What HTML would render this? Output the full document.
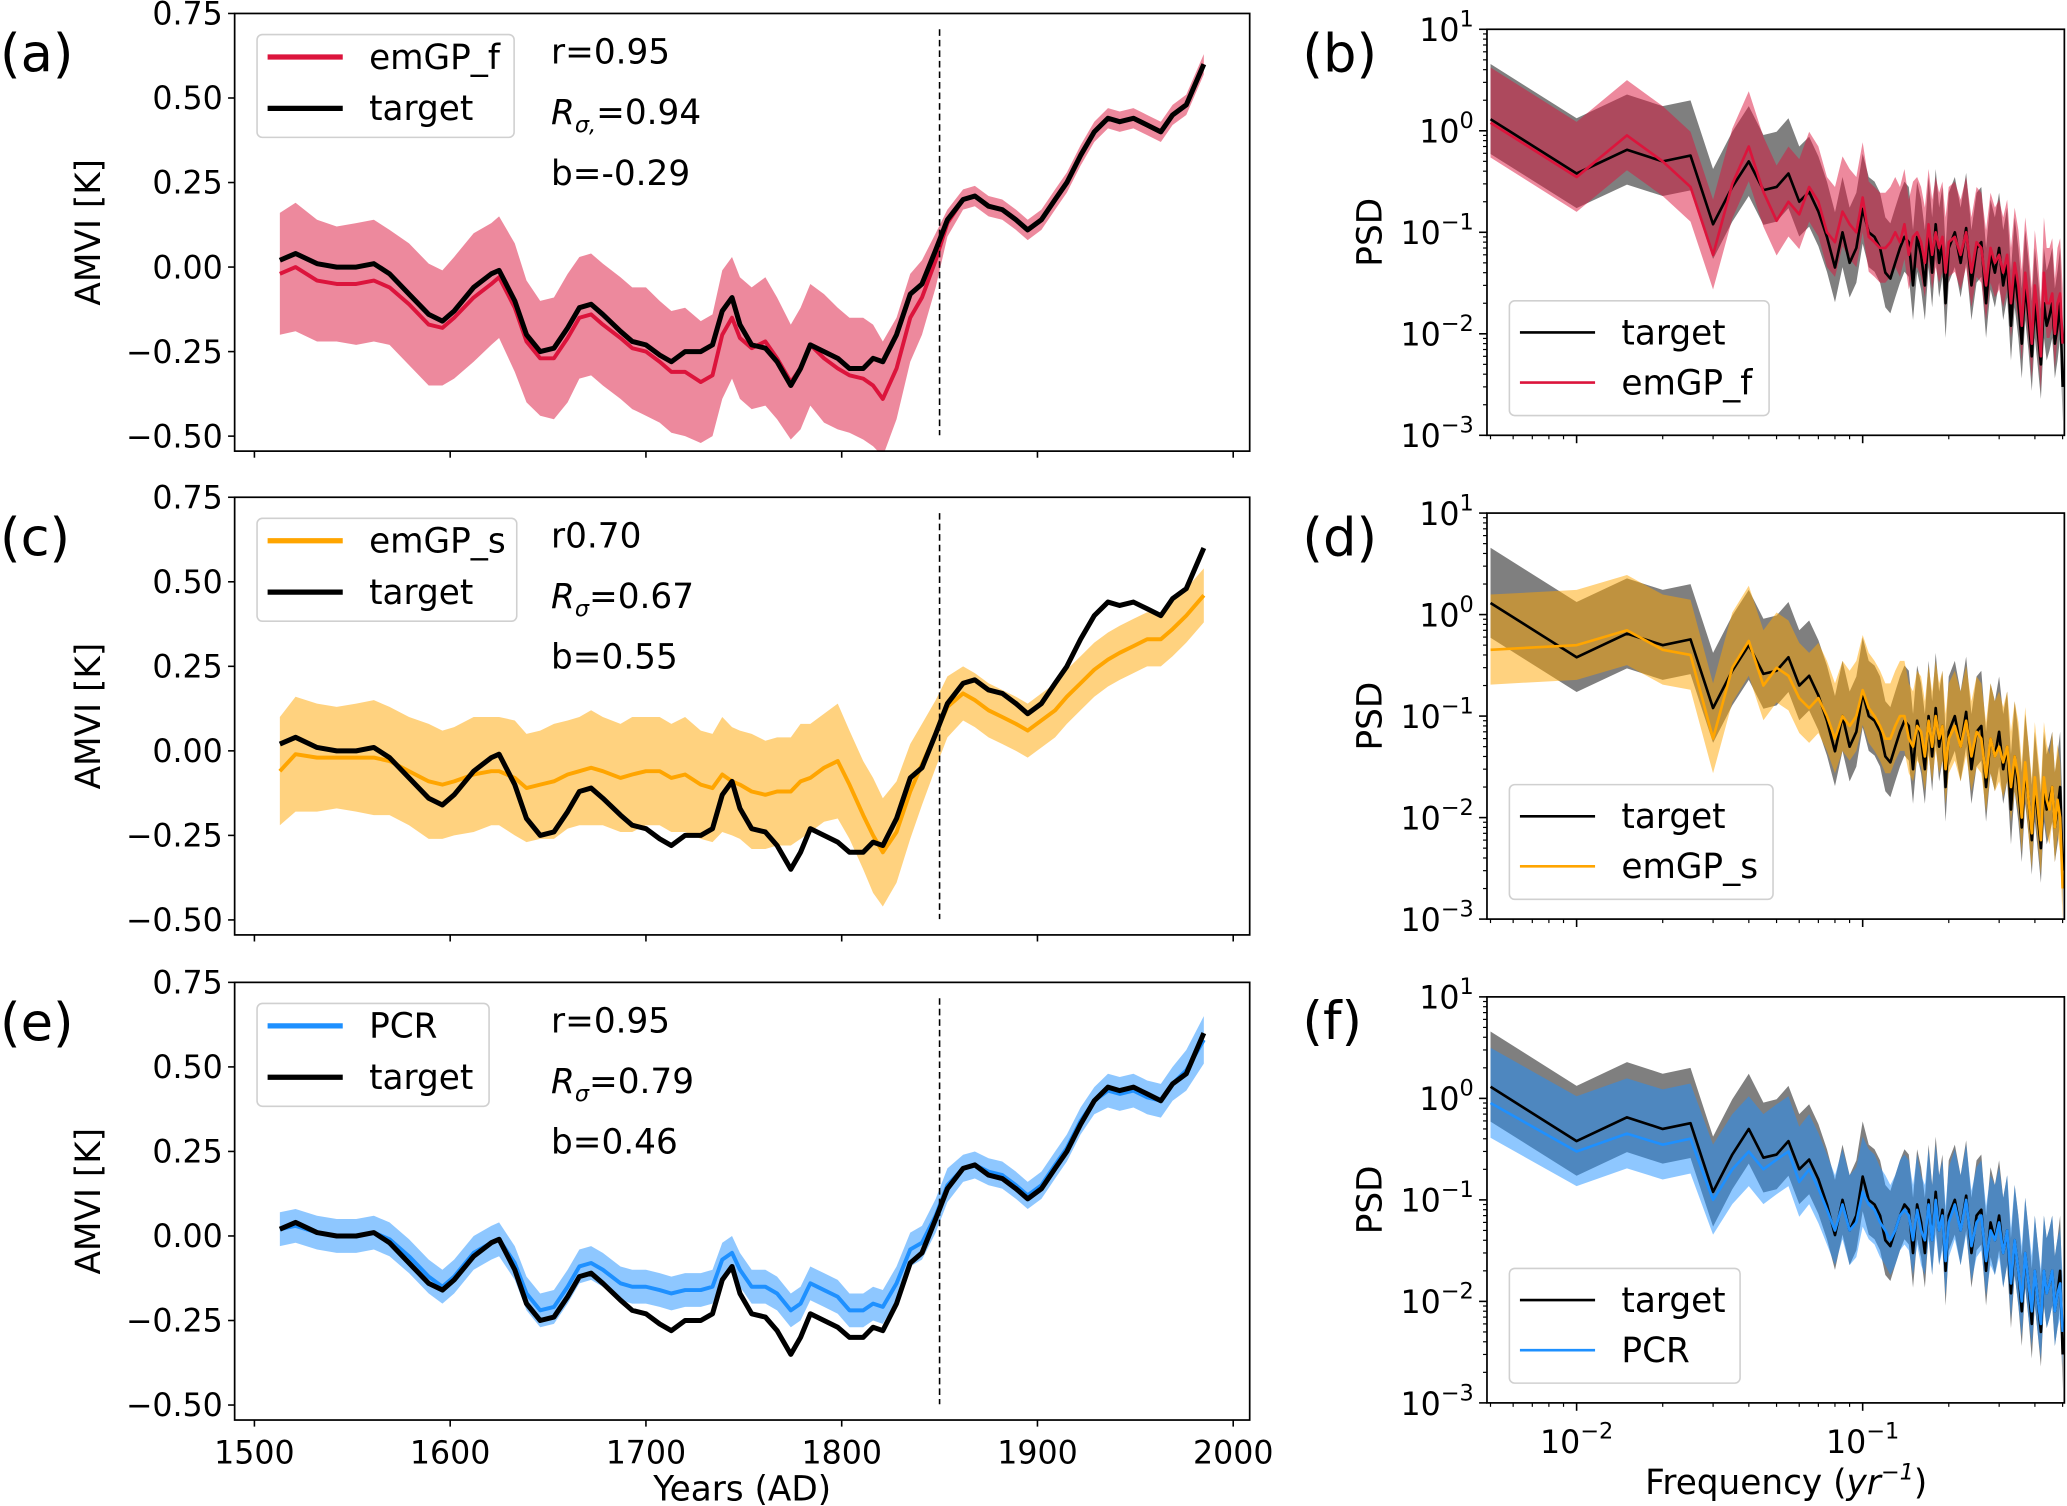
<!DOCTYPE html>
<html><head><meta charset="utf-8">
<style>
html,body{margin:0;padding:0;background:#fff;}
svg{display:block;font-family:"DejaVu Sans","Liberation Sans",sans-serif;}
</style></head>
<body>
<svg id="fig" xmlns="http://www.w3.org/2000/svg" width="2067" height="1506" viewBox="0 0 1568 1142">
<rect x="0" y="0" width="1568" height="1142" fill="#fff"/>
</svg>
<script>
// ---- time-series data ----
const years = [1513,1521,1532,1542,1552,1561,1569,1579,1589,1596,1602,1612,1621,1625,1633,1639,1646,1653,1660,1666,1672,1678,1687,1693,1700,1707,1713,1720,1728,1734,1739,1744,1748,1754,1761,1767,1774,1779,1784,1791,1798,1804,1811,1816,1821,1828,1835,1841,1848,1854,1862,1868,1875,1882,1889,1895,1902,1909,1915,1922,1929,1936,1942,1949,1956,1963,1969,1976,1985];
const targetTS = [0.02,0.04,0.01,0.00,0.00,0.01,-0.02,-0.08,-0.14,-0.16,-0.13,-0.06,-0.02,-0.01,-0.10,-0.20,-0.25,-0.24,-0.18,-0.12,-0.11,-0.14,-0.19,-0.22,-0.23,-0.26,-0.28,-0.25,-0.25,-0.23,-0.13,-0.09,-0.17,-0.23,-0.24,-0.28,-0.35,-0.30,-0.23,-0.25,-0.27,-0.30,-0.30,-0.27,-0.28,-0.20,-0.08,-0.05,0.05,0.14,0.20,0.21,0.18,0.17,0.14,0.11,0.14,0.20,0.25,0.33,0.40,0.44,0.43,0.44,0.42,0.40,0.45,0.48,0.60];
const emgpfTS = [-0.02,0.00,-0.04,-0.05,-0.05,-0.04,-0.06,-0.11,-0.17,-0.18,-0.15,-0.09,-0.05,-0.03,-0.12,-0.22,-0.27,-0.27,-0.21,-0.15,-0.14,-0.17,-0.21,-0.24,-0.25,-0.28,-0.31,-0.31,-0.34,-0.32,-0.20,-0.15,-0.21,-0.24,-0.22,-0.27,-0.34,-0.30,-0.23,-0.27,-0.30,-0.32,-0.33,-0.35,-0.39,-0.30,-0.15,-0.09,0.02,0.13,0.20,0.21,0.18,0.17,0.14,0.11,0.14,0.20,0.25,0.33,0.40,0.44,0.43,0.44,0.42,0.40,0.45,0.48,0.60];
const emgpfHW = [0.18,0.19,0.18,0.17,0.18,0.18,0.17,0.18,0.18,0.17,0.18,0.19,0.18,0.18,0.19,0.18,0.17,0.18,0.19,0.18,0.18,0.18,0.18,0.18,0.19,0.18,0.18,0.19,0.18,0.18,0.19,0.18,0.18,0.18,0.19,0.18,0.17,0.18,0.18,0.19,0.18,0.17,0.18,0.18,0.17,0.15,0.13,0.11,0.08,0.04,0.03,0.03,0.03,0.03,0.03,0.03,0.03,0.03,0.03,0.03,0.03,0.03,0.03,0.03,0.03,0.03,0.03,0.03,0.03];
const emgpsTS = [-0.06,-0.01,-0.02,-0.02,-0.02,-0.02,-0.03,-0.06,-0.09,-0.10,-0.09,-0.07,-0.06,-0.06,-0.08,-0.11,-0.10,-0.09,-0.07,-0.06,-0.05,-0.06,-0.08,-0.07,-0.06,-0.06,-0.08,-0.07,-0.10,-0.11,-0.07,-0.09,-0.10,-0.12,-0.13,-0.12,-0.12,-0.09,-0.08,-0.05,-0.03,-0.10,-0.19,-0.25,-0.30,-0.24,-0.12,-0.04,0.05,0.13,0.17,0.15,0.12,0.10,0.08,0.06,0.09,0.12,0.16,0.20,0.24,0.27,0.29,0.31,0.33,0.33,0.36,0.40,0.46];
const emgpsHW = [0.16,0.17,0.16,0.15,0.16,0.17,0.16,0.16,0.17,0.16,0.16,0.17,0.16,0.16,0.17,0.16,0.16,0.17,0.16,0.16,0.17,0.16,0.16,0.17,0.16,0.16,0.16,0.17,0.16,0.16,0.17,0.16,0.16,0.17,0.16,0.16,0.16,0.17,0.16,0.16,0.17,0.16,0.16,0.17,0.16,0.15,0.14,0.12,0.10,0.09,0.08,0.08,0.08,0.08,0.08,0.08,0.08,0.08,0.08,0.08,0.08,0.08,0.08,0.08,0.08,0.08,0.08,0.08,0.08];
const pcrTS = [0.02,0.03,0.01,0.00,0.00,0.01,-0.01,-0.06,-0.12,-0.15,-0.12,-0.05,-0.02,-0.01,-0.08,-0.17,-0.22,-0.21,-0.15,-0.09,-0.08,-0.10,-0.14,-0.15,-0.15,-0.16,-0.17,-0.16,-0.16,-0.15,-0.07,-0.05,-0.10,-0.15,-0.15,-0.17,-0.22,-0.20,-0.14,-0.16,-0.18,-0.22,-0.22,-0.20,-0.21,-0.14,-0.04,-0.02,0.06,0.15,0.20,0.21,0.19,0.18,0.15,0.12,0.15,0.21,0.26,0.34,0.40,0.43,0.42,0.43,0.41,0.40,0.45,0.49,0.58];
const pcrHW = [0.05,0.05,0.05,0.05,0.05,0.05,0.05,0.05,0.05,0.05,0.05,0.05,0.05,0.05,0.05,0.05,0.05,0.05,0.05,0.05,0.05,0.05,0.05,0.05,0.05,0.05,0.05,0.05,0.05,0.05,0.05,0.05,0.05,0.05,0.05,0.05,0.05,0.05,0.05,0.05,0.05,0.05,0.05,0.05,0.05,0.05,0.05,0.05,0.05,0.05,0.04,0.04,0.04,0.04,0.04,0.04,0.04,0.04,0.04,0.04,0.04,0.05,0.05,0.05,0.05,0.05,0.05,0.06,0.07];
const yTicksTS = [0.75,0.50,0.25,0.00,-0.25,-0.50];
const yTickLabelsTS = ["0.75","0.50","0.25","0.00","\u22120.25","\u22120.50"];
const xTicksTS = [1500,1600,1700,1800,1900,2000];

// ---- PSD data ----
const freqIdx = [1,2,3,4,5,6,7,8,9,10,11,12,13,14,15,16,17,18,19,20,21,22,23,24,25,26,27,28,29,30,31,32,33,34,35,36,37,38,39,40,42,44,46,48,50,52,54,56,58,60,62,64,66,68,70,72,74,76,78,80,82,84,86,88,90,92,94,96,98,100];
const freqDenom = 200;
const psdTarget = [1.3,0.38,0.65,0.5,0.57,0.12,0.28,0.5,0.26,0.28, 0.38,0.2,0.25,0.16,0.09,0.045,0.1,0.05,0.07,0.17, 0.1,0.09,0.07,0.04,0.035,0.05,0.07,0.09,0.08,0.03, 0.09,0.06,0.03,0.1,0.04,0.12,0.05,0.08,0.02,0.07, 0.1,0.05,0.11,0.03,0.07,0.08,0.02,0.06,0.04,0.07, 0.03,0.05,0.012,0.04,0.02,0.008,0.03,0.015,0.006,0.02, 0.01,0.005,0.02,0.012,0.015,0.02,0.008,0.012,0.02,0.003];
const psdEmgpf = [1.2,0.35,0.9,0.5,0.28,0.06,0.3,0.7,0.25,0.13, 0.2,0.15,0.28,0.2,0.1,0.08,0.16,0.12,0.1,0.22, 0.09,0.08,0.07,0.07,0.08,0.1,0.08,0.12,0.06,0.09, 0.1,0.08,0.05,0.12,0.06,0.1,0.07,0.09,0.04,0.08, 0.09,0.06,0.1,0.04,0.08,0.07,0.03,0.07,0.05,0.06, 0.04,0.06,0.02,0.05,0.03,0.012,0.04,0.02,0.008,0.03, 0.015,0.006,0.04,0.02,0.02,0.025,0.01,0.02,0.025,0.008];
const psdEmgps = [0.45,0.5,0.7,0.45,0.4,0.06,0.3,0.55,0.2,0.3, 0.25,0.15,0.12,0.15,0.1,0.06,0.1,0.08,0.1,0.18, 0.12,0.1,0.08,0.06,0.06,0.08,0.1,0.1,0.06,0.05, 0.08,0.07,0.04,0.09,0.05,0.1,0.06,0.08,0.03,0.06, 0.08,0.05,0.09,0.04,0.07,0.06,0.025,0.06,0.04,0.05, 0.035,0.05,0.02,0.04,0.025,0.01,0.035,0.015,0.007,0.025, 0.012,0.006,0.025,0.015,0.012,0.02,0.008,0.015,0.01,0.002];
const psdPcr = [0.9,0.3,0.45,0.35,0.4,0.1,0.2,0.3,0.2,0.25, 0.3,0.15,0.2,0.13,0.08,0.05,0.09,0.05,0.06,0.12, 0.09,0.08,0.06,0.05,0.04,0.05,0.07,0.08,0.07,0.04, 0.08,0.05,0.04,0.09,0.04,0.1,0.05,0.07,0.025,0.06, 0.09,0.05,0.1,0.035,0.06,0.07,0.025,0.05,0.04,0.06, 0.03,0.05,0.015,0.04,0.02,0.01,0.03,0.015,0.008,0.02, 0.01,0.006,0.02,0.012,0.015,0.02,0.008,0.012,0.015,0.005];
const bandUp = 3.5, bandDown = 2.2;
const yTickExpPSD = [1,0,-1,-2,-3];
const xTickExpPSD = [-2,-1];

const NS = "http://www.w3.org/2000/svg";
const svg = document.getElementById("fig");
function mk(tag, attrs, parent){
  const e = document.createElementNS(NS, tag);
  for (const k in attrs) e.setAttribute(k, attrs[k]);
  (parent||svg).appendChild(e);
  return e;
}
const defs = mk("defs", {});

// ---- left panels ----
const L = {x0:178, x1:948};
function xYear(y){ return 193 + (y-1500)*1.485; }
function yVal(top, v){ return top + (0.75 - v)*256.5; }

const leftPanels = [
  {top:10, label:"(a)", model:emgpfTS, hw:emgpfHW, color:"#dc143c", name:"emGP_f", stats:["r=0.95","R","=0.94","b=-0.29"], sub:"σ,", legW:195, key:"a"},
  {top:377, label:"(c)", model:emgpsTS, hw:emgpsHW, color:"#ffa500", name:"emGP_s", stats:["r0.70","R","=0.67","b=0.55"], sub:"σ", legW:197, key:"c"},
  {top:745, label:"(e)", model:pcrTS, hw:pcrHW, color:"#1e90ff", name:"PCR", stats:["r=0.95","R","=0.79","b=0.46"], sub:"σ", legW:176, key:"e"}
];

leftPanels.forEach((p, pi) => {
  const g = mk("g", {});
  
  
  const top = p.top, bot = top + 332;
  const cp = mk("clipPath", {id:"clipL"+pi}, defs);
  mk("rect", {x:L.x0, y:top, width:L.x1-L.x0, height:332}, cp);
  const plot = mk("g", {"clip-path":"url(#clipL"+pi+")"}, g);
  // band
  let up = "", dn = "";
  years.forEach((yr,i) => {
    up += (i?"L":"M") + xYear(yr).toFixed(1) + "," + yVal(top, p.model[i]+p.hw[i]).toFixed(1);
  });
  for (let i = years.length-1; i >= 0; i--) {
    dn += "L" + xYear(years[i]).toFixed(1) + "," + yVal(top, p.model[i]-p.hw[i]).toFixed(1);
  }
  const band = mk("path", {d: up+dn+"Z", fill:p.color, "fill-opacity":0.5, stroke:"none"}, plot);
  
  
  let dm = "", dt = "";
  years.forEach((yr,i) => {
    dm += (i?"L":"M") + xYear(yr).toFixed(1) + "," + yVal(top, p.model[i]).toFixed(1);
    dt += (i?"L":"M") + xYear(yr).toFixed(1) + "," + yVal(top, targetTS[i]).toFixed(1);
  });
  const ml = mk("path", {d:dm, fill:"none", stroke:p.color, "stroke-width":3, "stroke-linejoin":"round"}, plot);
  
  
  const tl = mk("path", {d:dt, fill:"none", stroke:"#000", "stroke-width":3.8, "stroke-linejoin":"round"}, plot);
  
  
  // dashed line at 1850
  const dl = mk("line", {x1:xYear(1850), x2:xYear(1850), y1:top+12, y2:top+320, stroke:"#000", "stroke-width":1.2, "stroke-dasharray":"5,3"}, g);
  
  
  // spines
  const sp = mk("rect", {x:L.x0, y:top, width:L.x1-L.x0, height:332, fill:"none", stroke:"#000", "stroke-width":1.3}, g);
  
  
  // y ticks
  yTicksTS.forEach((v,i) => {
    const yy = yVal(top, v);
    mk("line", {x1:L.x0-5, x2:L.x0, y1:yy, y2:yy, stroke:"#000", "stroke-width":1.2}, g);
    const t = mk("text", {x:L.x0-9, y:yy+8.5, "font-size":24, "text-anchor":"end", fill:"#000"}, g);
    t.textContent = yTickLabelsTS[i];
    
    
  });
  // x ticks
  xTicksTS.forEach(v => {
    const xx = xYear(v);
    mk("line", {x1:xx, x2:xx, y1:bot, y2:bot+5, stroke:"#000", "stroke-width":1.2}, g);
    if (pi === 2) {
      const t = mk("text", {x:xx, y:bot+33, "font-size":24, "text-anchor":"middle", fill:"#000"}, g);
      t.textContent = String(v);
      
      
    }
  });
  // y label
  const cy = top + 166;
  const yl = mk("text", {x:0, y:0, "font-size":26, "text-anchor":"middle", transform:"translate(76,"+cy+") rotate(-90)", fill:"#000"}, g);
  yl.textContent = "AMVI [K]";
  
  
  // panel label
  const pl = mk("text", {x:0, y:top+44, "font-size":40, fill:"#000"}, g);
  pl.textContent = p.label;
  
  
  // legend
  const lg = mk("g", {}, g);
  
  
  mk("rect", {x:195, y:top+16, width:p.legW, height:78, rx:4, fill:"#fff", "fill-opacity":0.85, stroke:"#d0d0d0", "stroke-width":1.2}, lg);
  mk("line", {x1:203, x2:260, y1:top+33, y2:top+33, stroke:p.color, "stroke-width":4}, lg);
  mk("line", {x1:203, x2:260, y1:top+72, y2:top+72, stroke:"#000", "stroke-width":4}, lg);
  const l1 = mk("text", {x:280, y:top+42, "font-size":26, fill:"#000"}, lg); l1.textContent = p.name;
  
  
  const l2 = mk("text", {x:280, y:top+81, "font-size":26, fill:"#000"}, lg); l2.textContent = "target";
  
  
  // stats
  const s1 = mk("text", {x:418, y:top+38, "font-size":26, fill:"#000"}, g); s1.textContent = p.stats[0];
  
  
  const s2 = mk("text", {x:418, y:top+84, "font-size":26, fill:"#000"}, g);
  
  
  const ta = mk("tspan", {"font-style":"italic"}, s2); ta.textContent = "R";
  const tb = mk("tspan", {"font-style":"italic", "font-size":17, dy:6}, s2); tb.textContent = p.sub;
  const tc = mk("tspan", {dy:-6}, s2); tc.textContent = p.stats[2];
  const s3 = mk("text", {x:418, y:top+130, "font-size":26, fill:"#000"}, g); s3.textContent = p.stats[3];
  
  
});
const xt = mk("text", {x:563, y:1138, "font-size":26, "text-anchor":"middle", fill:"#000"});
xt.textContent = "Years (AD)";



// ---- right panels ----
const R = {x0:1128, x1:1566};
function xFreq(f){ return 1196 + 217*(Math.log10(f)+2); }
function yPsd(top, v){ return top + (1 - Math.log10(v))*77; }

const rightPanels = [
  {top:22, label:"(b)", model:psdEmgpf, color:"#dc143c", name:"emGP_f", legW:197, key:"b"},
  {top:389, label:"(d)", model:psdEmgps, color:"#ffa500", name:"emGP_s", legW:200, key:"d"},
  {top:756, label:"(f)", model:psdPcr, color:"#1e90ff", name:"PCR", legW:175, key:"f"}
];
rightPanels.forEach((p, pi) => {
  const g = mk("g", {});
  
  
  const top = p.top, bot = top + 308;
  const cp = mk("clipPath", {id:"clipR"+pi}, defs);
  mk("rect", {x:R.x0, y:top, width:R.x1-R.x0, height:308}, cp);
  const plot = mk("g", {"clip-path":"url(#clipR"+pi+")"}, g);
  function bandPath(arr){
    let a = "", b = "";
    freqIdx.forEach((k,i) => { a += (i?"L":"M") + xFreq(k/freqDenom).toFixed(1) + "," + yPsd(top, arr[i]*bandUp).toFixed(1); });
    for (let i = freqIdx.length-1; i >= 0; i--) b += "L" + xFreq(freqIdx[i]/freqDenom).toFixed(1) + "," + yPsd(top, arr[i]/bandDown).toFixed(1);
    return a + b + "Z";
  }
  function linePath(arr){
    let a = "";
    freqIdx.forEach((k,i) => { a += (i?"L":"M") + xFreq(k/freqDenom).toFixed(1) + "," + yPsd(top, arr[i]).toFixed(1); });
    return a;
  }
  const b1 = mk("path", {d:bandPath(psdTarget), fill:"#000", "fill-opacity":0.5}, plot);
  
  
  const b2 = mk("path", {d:bandPath(p.model), fill:p.color, "fill-opacity":0.5}, plot);
  
  
  const l1 = mk("path", {d:linePath(psdTarget), fill:"none", stroke:"#000", "stroke-width":2, "stroke-linejoin":"round"}, plot);
  
  
  const l2 = mk("path", {d:linePath(p.model), fill:"none", stroke:p.color, "stroke-width":2, "stroke-linejoin":"round"}, plot);
  
  
  const sp = mk("rect", {x:R.x0, y:top, width:R.x1-R.x0, height:308, fill:"none", stroke:"#000", "stroke-width":1.3}, g);
  
  
  // y ticks major + minor
  yTickExpPSD.forEach(e => {
    const yy = yPsd(top, Math.pow(10,e));
    mk("line", {x1:R.x0-6, x2:R.x0, y1:yy, y2:yy, stroke:"#000", "stroke-width":1.2}, g);
    const t = mk("text", {x:R.x0-10, y:yy+9, "font-size":24, "text-anchor":"end", fill:"#000"}, g);
    
    
    const t1 = mk("tspan", {}, t); t1.textContent = "10";
    const t2 = mk("tspan", {"font-size":17, dy:-11}, t); t2.textContent = e < 0 ? "\u2212" + (-e) : String(e);
    if (e > -3) for (let m = 2; m <= 9; m++) {
      const ym = yPsd(top, m*Math.pow(10,e-1));
      mk("line", {x1:R.x0-3, x2:R.x0, y1:ym, y2:ym, stroke:"#000", "stroke-width":0.9}, g);
    }
  });
  // x ticks
  for (let e = -3; e <= -1; e++) for (let m = 1; m <= 9; m++) {
    const f = m*Math.pow(10,e), xx = xFreq(f);
    if (xx < R.x0-0.5 || xx > R.x1+0.5) continue;
    mk("line", {x1:xx, x2:xx, y1:bot, y2:bot+(m===1?6:3), stroke:"#000", "stroke-width":m===1?1.2:0.9}, g);
  }
  if (pi === 2) {
    xTickExpPSD.forEach(e => {
      const xx = xFreq(Math.pow(10,e));
      const t = mk("text", {x:xx, y:bot+38, "font-size":24, "text-anchor":"middle", fill:"#000"}, g);
      
      
      const t1 = mk("tspan", {}, t); t1.textContent = "10";
      const t2 = mk("tspan", {"font-size":17, dy:-11}, t); t2.textContent = "\u2212" + (-e);
    });
  }
  const yl = mk("text", {x:0, y:0, "font-size":26, "text-anchor":"middle", transform:"translate(1048,"+(top+154)+") rotate(-90)", fill:"#000"}, g);
  yl.textContent = "PSD";
  
  
  const pl = mk("text", {x:988, y:top+32, "font-size":40, fill:"#000"}, g);
  pl.textContent = p.label;
  
  
  const lg = mk("g", {}, g);
  
  
  const ly = top + 206;
  mk("rect", {x:1145, y:ly, width:p.legW, height:87, rx:4, fill:"#fff", "fill-opacity":0.85, stroke:"#d0d0d0", "stroke-width":1.2}, lg);
  mk("line", {x1:1153, x2:1210, y1:ly+24, y2:ly+24, stroke:"#000", "stroke-width":2}, lg);
  mk("line", {x1:1153, x2:1210, y1:ly+62, y2:ly+62, stroke:p.color, "stroke-width":2}, lg);
  const e1 = mk("text", {x:1230, y:ly+33, "font-size":26, fill:"#000"}, lg); e1.textContent = "target";
  
  
  const e2 = mk("text", {x:1230, y:ly+71, "font-size":26, fill:"#000"}, lg); e2.textContent = p.name;
  
  
});
const fx = mk("text", {x:1355, y:1133, "font-size":26, "text-anchor":"middle", fill:"#000"});


const f1 = mk("tspan", {}, fx); f1.textContent = "Frequency (";
const f2 = mk("tspan", {"font-style":"italic"}, fx); f2.textContent = "yr";
const f3 = mk("tspan", {"font-style":"italic", "font-size":17, dy:-11}, fx); f3.textContent = "\u22121";
const f4 = mk("tspan", {dy:11}, fx); f4.textContent = ")";
</script>
</body></html>
